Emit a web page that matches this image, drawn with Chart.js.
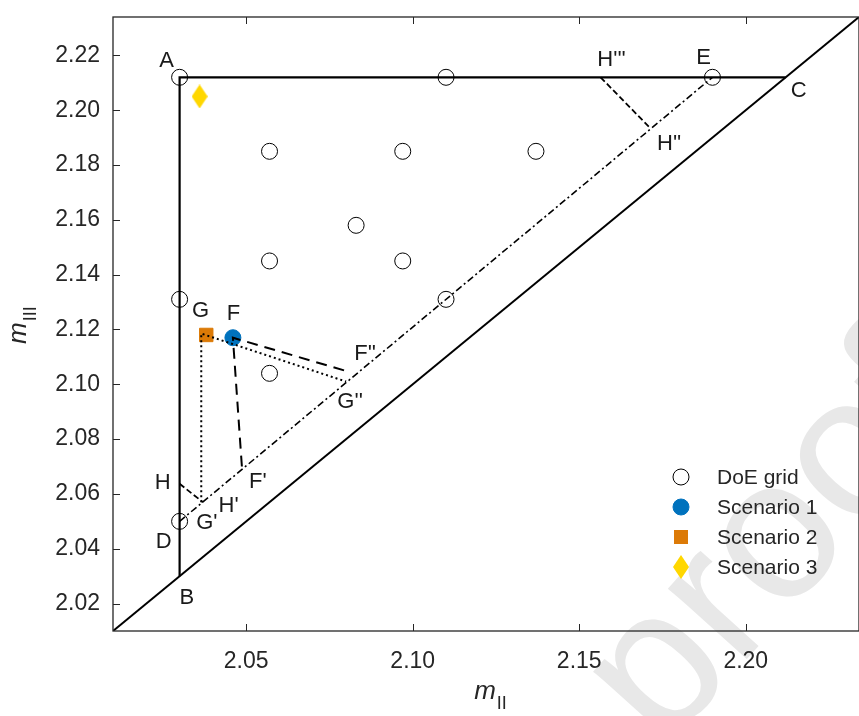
<!DOCTYPE html>
<html>
<head>
<meta charset="utf-8">
<script src="https://cdn.jsdelivr.net/npm/chart.js@4.4.0/dist/chart.umd.min.js"></script>
<style>
  html, body { margin: 0; padding: 0; background: #fff; }
  #wrap { width: 859px; height: 716px; overflow: hidden; }
  canvas { display: block; }
</style>
</head>
<body>
<div id="wrap"><canvas id="chart" width="870" height="716"></canvas></div>
<script>
// axes
const xRange = [2.01, 2.234];
const yRange = [2.01, 2.234];
const xTicks = [2.05, 2.10, 2.15, 2.20];
const yTicks = [2.02, 2.04, 2.06, 2.08, 2.10, 2.12, 2.14, 2.16, 2.18, 2.20, 2.22];

// DoE grid
const doeX = [2.03, 2.11, 2.19, 2.057, 2.097, 2.137, 2.083, 2.057, 2.097, 2.03, 2.11, 2.057, 2.03];
const doeY = [2.212, 2.212, 2.212, 2.185, 2.185, 2.185, 2.158, 2.145, 2.145, 2.131, 2.131, 2.104, 2.05];

// scenarios
const scenarioNames = ['Scenario 1', 'Scenario 2', 'Scenario 3'];
const scenarioX = [2.046, 2.038, 2.036];
const scenarioY = [2.117, 2.118, 2.205];

// construction lines
const diagX = [2.01, 2.234];
const diagY = [2.01, 2.234];
const boundX = [2.212, 2.03, 2.03];   // C - A - B
const boundY = [2.212, 2.212, 2.03];
const deX = [2.03, 2.19];             // D - E
const deY = [2.05, 2.212];
const fX = [2.0487, 2.046, 2.081];    // F' - F - F''
const fY = [2.070, 2.117, 2.1045];
const gX = [2.0365, 2.0365, 2.080];   // G' - G - G''
const gY = [2.057, 2.1185, 2.101];
const hX = [2.03, 2.037];             // H - H'
const hY = [2.0637, 2.057];
const h2X = [2.1564, 2.1712];         // H''' - H''
const h2Y = [2.212, 2.1936];

// point labels
const labelText = ['A', 'B', 'C', 'D', 'E', 'F', 'G', "F'", "F''", "G'", "G''", 'H', "H'", "H''", "H'''"];
const labelX = [2.0261, 2.0322, 2.2159, 2.0252, 2.1873, 2.0462, 2.0363, 2.0535, 2.0857, 2.0382, 2.0812, 2.0249, 2.0447, 2.177, 2.1597];
const labelY = [2.218, 2.0219, 2.207, 2.0424, 2.2191, 2.1256, 2.1268, 2.0643, 2.1111, 2.0494, 2.0934, 2.0639, 2.0558, 2.1876, 2.2185];

const FONT = '"Liberation Sans", Arial, Helvetica, sans-serif';
const INK = '#262626';

function pts(xs, ys) {
    return xs.map((x, i) => ({x: x, y: ys[i]}));
}

// tall diamond marker for scenario 3
function makeDiamond(w, h, color) {
    const c = document.createElement('canvas');
    c.width = w;
    c.height = h;
    const g = c.getContext('2d');
    g.fillStyle = color;
    g.beginPath();
    g.moveTo(w / 2, 0);
    g.lineTo(w, h / 2);
    g.lineTo(w / 2, h);
    g.lineTo(0, h / 2);
    g.closePath();
    g.fill();
    return c;
}
const diamond = makeDiamond(16, 24, '#FFD700');

function lineSet(xs, ys, width, dash) {
    return {
        label: '',
        data: pts(xs, ys),
        showLine: true,
        borderColor: '#000',
        borderWidth: width,
        borderDash: dash,
        borderCapStyle: 'butt',
        pointRadius: 0,
        fill: false,
        order: 0
    };
}

const markerSets = [
    {
        label: 'DoE grid',
        data: pts(doeX, doeY),
        pointStyle: 'circle',
        pointRadius: 8,
        backgroundColor: 'rgba(0,0,0,0)',
        borderColor: '#000',
        borderWidth: 1,
        order: 1
    },
    {
        label: scenarioNames[0],
        data: [{x: scenarioX[0], y: scenarioY[0]}],
        pointStyle: 'circle',
        pointRadius: 8,
        backgroundColor: '#0072BD',
        borderColor: '#0072BD',
        borderWidth: 1,
        order: 1
    },
    {
        label: scenarioNames[1],
        data: [{x: scenarioX[1], y: scenarioY[1]}],
        pointStyle: 'rect',
        pointRadius: 9.5,
        backgroundColor: '#DC7A07',
        borderColor: '#DC7A07',
        borderWidth: 1,
        order: 1
    },
    {
        label: scenarioNames[2],
        data: [{x: scenarioX[2], y: scenarioY[2]}],
        pointStyle: diamond,
        pointRadius: 10,
        backgroundColor: '#FFD700',
        borderColor: '#FFD700',
        order: 1
    }
];

// light watermark behind the plot
const watermark = {
    id: 'watermark',
    beforeDraw(chart) {
        const ctx = chart.ctx;
        ctx.save();
        ctx.translate(663, 752);
        ctx.rotate(-48 * Math.PI / 180);
        ctx.fillStyle = '#e8e8e8';
        ctx.font = '200px ' + FONT;
        ctx.fillText('proof', 0, 0);
        ctx.restore();
    }
};

// box, inward ticks, labels, legend, axis titles
const decorations = {
    id: 'decorations',
    afterDraw(chart) {
        const ctx = chart.ctx;
        const a = chart.chartArea;
        const xs = chart.scales.x, ys = chart.scales.y;
        ctx.save();

        ctx.strokeStyle = INK;
        ctx.lineWidth = 1.3;
        ctx.strokeRect(a.left, a.top, a.right - a.left, a.bottom - a.top);
        ctx.lineWidth = 1;
        ctx.beginPath();
        xTicks.forEach(v => {
            const px = Math.round(xs.getPixelForValue(v)) + 0.5;
            ctx.moveTo(px, a.bottom); ctx.lineTo(px, a.bottom - 7);
            ctx.moveTo(px, a.top); ctx.lineTo(px, a.top + 7);
        });
        yTicks.forEach(v => {
            const py = Math.round(ys.getPixelForValue(v)) + 0.5;
            ctx.moveTo(a.left, py); ctx.lineTo(a.left + 7, py);
        });
        ctx.stroke();

        // point labels
        ctx.fillStyle = '#1a1a1a';
        ctx.font = '22px ' + FONT;
        ctx.textAlign = 'center';
        ctx.textBaseline = 'middle';
        labelText.forEach((t, i) => {
            ctx.fillText(t, xs.getPixelForValue(labelX[i]), ys.getPixelForValue(labelY[i]));
        });

        // legend
        const lx = a.left + 568, tx = a.left + 604;
        let ly = a.bottom - 154;
        ctx.textAlign = 'left';
        ctx.font = '21px ' + FONT;
        markerSets.forEach(ds => {
            ctx.save();
            ctx.fillStyle = ds.backgroundColor;
            ctx.strokeStyle = ds.borderColor;
            ctx.lineWidth = ds.borderWidth || 1;
            if (ds.pointStyle === 'circle') {
                ctx.beginPath();
                ctx.arc(lx, ly, 8, 0, Math.PI * 2);
                ctx.fill();
                ctx.stroke();
            } else if (ds.pointStyle === 'rect') {
                ctx.fillRect(lx - 7, ly - 7, 14, 14);
            } else {
                ctx.drawImage(ds.pointStyle, lx - ds.pointStyle.width / 2, ly - ds.pointStyle.height / 2);
            }
            ctx.restore();
            ctx.fillStyle = INK;
            ctx.fillText(ds.label, tx, ly + 1);
            ly += 30;
        });

        // axis titles: italic m with subscript
        ctx.fillStyle = INK;
        ctx.textBaseline = 'alphabetic';
        ctx.textAlign = 'left';
        ctx.font = 'italic 26px ' + FONT;
        const mw = ctx.measureText('m').width;
        ctx.font = '18px ' + FONT;
        const sw = ctx.measureText('II').width;
        const cx = (a.left + 859) / 2 - (mw + sw) / 2 + 4;
        ctx.font = 'italic 26px ' + FONT;
        ctx.fillText('m', cx, 699);
        ctx.font = '18px ' + FONT;
        ctx.fillText('II', cx + mw + 1, 709);

        ctx.save();
        ctx.translate(26, (a.top + a.bottom) / 2 + 20);
        ctx.rotate(-Math.PI / 2);
        ctx.font = 'italic 26px ' + FONT;
        ctx.fillText('m', 0, 0);
        ctx.font = '18px ' + FONT;
        ctx.fillText('III', mw + 1, 10);
        ctx.restore();

        ctx.restore();
    }
};

new Chart(document.getElementById('chart'), {
    type: 'scatter',
    data: {
        datasets: [
            lineSet(diagX, diagY, 2, []),
            lineSet(boundX, boundY, 2.2, []),
            lineSet(deX, deY, 1.6, [7, 3, 2, 3]),
            lineSet(fX, fY, 2, [11, 7]),
            lineSet(gX, gY, 2, [2, 3]),
            lineSet(hX, hY, 1.8, [6, 3]),
            lineSet(h2X, h2Y, 1.8, [6, 3])
        ].concat(markerSets)
    },
    options: {
        responsive: false,
        animation: false,
        layout: {padding: 0},
        plugins: {
            legend: {display: false},
            tooltip: {enabled: false}
        },
        scales: {
            x: {
                type: 'linear',
                position: 'bottom',
                min: xRange[0],
                max: xRange[1],
                afterBuildTicks: s => { s.ticks = xTicks.map(v => ({value: v})); },
                afterFit: s => { s.height = 85; s.paddingLeft = 0; s.paddingRight = 0; },
                grid: {display: false, drawTicks: false},
                border: {display: false},
                ticks: {
                    padding: 17,
                    color: INK,
                    font: {family: FONT, size: 23},
                    maxRotation: 0,
                    callback: v => v.toFixed(2)
                }
            },
            xTop: {
                type: 'linear',
                position: 'top',
                min: xRange[0],
                max: xRange[1],
                afterFit: s => { s.height = 17; s.paddingLeft = 0; s.paddingRight = 0; },
                grid: {display: false, drawTicks: false},
                border: {display: false},
                ticks: {display: false}
            },
            y: {
                type: 'linear',
                min: yRange[0],
                max: yRange[1],
                afterBuildTicks: s => { s.ticks = yTicks.map(v => ({value: v})); },
                afterFit: s => { s.width = 113; s.paddingTop = 0; s.paddingBottom = 0; },
                grid: {display: false, drawTicks: false},
                border: {display: false},
                ticks: {
                    padding: 13,
                    color: INK,
                    font: {family: FONT, size: 23},
                    callback: v => v.toFixed(2)
                }
            }
        }
    },
    plugins: [watermark, decorations]
});
</script>
</body>
</html>
